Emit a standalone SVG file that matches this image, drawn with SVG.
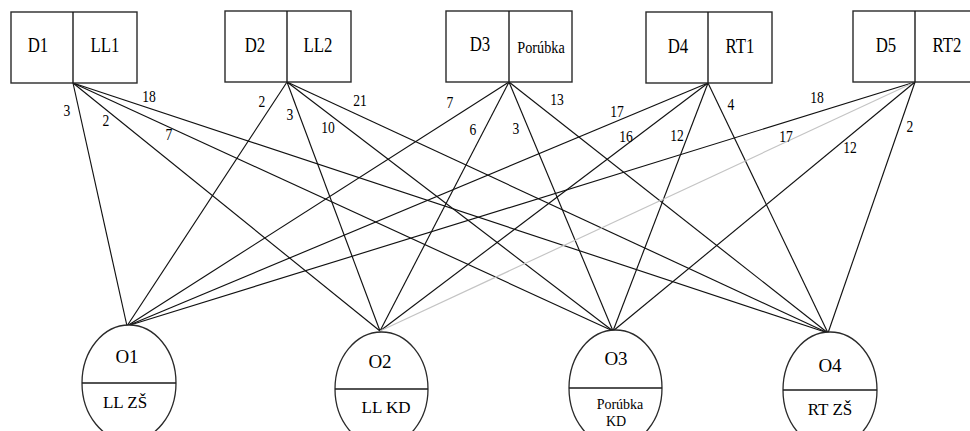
<svg xmlns="http://www.w3.org/2000/svg" width="970" height="431" viewBox="0 0 970 431">
  <style>
    .box { fill: #ffffff; stroke: #2a2a2a; stroke-width: 1.4; }
    .div { stroke: #1a1a1a; stroke-width: 1.4; }
    .node { fill: #ffffff; stroke: #2a2a2a; stroke-width: 1.3; }
    .edge { stroke: #111111; stroke-width: 1.15; fill: none; }
    .edge.light { stroke: #c4c4c4; }
    text { font-family: "Liberation Serif", "Times New Roman", serif; fill: #000000; text-anchor: middle; }
    .bl { font-size: 21px; }
    .bs { font-size: 16px; }
    .el { font-size: 16px; }
    .ol { font-size: 19px; }
    .os { font-size: 17px; }
    .oss { font-size: 14px; }
  </style>

  <rect width="970" height="431" fill="#ffffff"/>

  <!-- connectors: each D source to each O target -->
  <g id="connectors">
    <line class="edge" x1="73" y1="83" x2="127" y2="326"/>
    <line class="edge" x1="73" y1="83" x2="380" y2="331"/>
    <line class="edge" x1="73" y1="83" x2="613" y2="331"/>
    <line class="edge" x1="73" y1="83" x2="828" y2="333"/>

    <line class="edge" x1="287" y1="82" x2="127" y2="326"/>
    <line class="edge" x1="287" y1="82" x2="380" y2="331"/>
    <line class="edge" x1="287" y1="82" x2="613" y2="331"/>
    <line class="edge" x1="287" y1="82" x2="828" y2="333"/>

    <line class="edge" x1="509" y1="82" x2="127" y2="326"/>
    <line class="edge" x1="509" y1="82" x2="380" y2="331"/>
    <line class="edge" x1="509" y1="82" x2="613" y2="331"/>
    <line class="edge" x1="509" y1="82" x2="828" y2="333"/>

    <line class="edge" x1="708" y1="83" x2="127" y2="326"/>
    <line class="edge" x1="708" y1="83" x2="380" y2="331"/>
    <line class="edge" x1="708" y1="83" x2="613" y2="331"/>
    <line class="edge" x1="708" y1="83" x2="828" y2="333"/>

    <line class="edge" x1="915" y1="82" x2="127" y2="326"/>
    <line class="edge light" x1="915" y1="82" x2="380" y2="331"/>
    <line class="edge" x1="915" y1="82" x2="613" y2="331"/>
    <line class="edge" x1="915" y1="82" x2="828" y2="333"/>

    <!-- edge weights -->
    <text class="el" transform="translate(67,116) scale(0.85,1)">3</text>
    <text class="el" transform="translate(106,126) scale(0.85,1)">2</text>
    <text class="el" transform="translate(169,140) scale(0.85,1)">7</text>
    <text class="el" transform="translate(149,102) scale(0.85,1)">18</text>

    <text class="el" transform="translate(262,107) scale(0.85,1)">2</text>
    <text class="el" transform="translate(290,120) scale(0.85,1)">3</text>
    <text class="el" transform="translate(328,133) scale(0.85,1)">10</text>
    <text class="el" transform="translate(360,106) scale(0.85,1)">21</text>

    <text class="el" transform="translate(450,108) scale(0.85,1)">7</text>
    <text class="el" transform="translate(473,135) scale(0.85,1)">6</text>
    <text class="el" transform="translate(516,134) scale(0.85,1)">3</text>
    <text class="el" transform="translate(557,105) scale(0.85,1)">13</text>

    <text class="el" transform="translate(617,117) scale(0.85,1)">17</text>
    <text class="el" transform="translate(626,142) scale(0.85,1)">16</text>
    <text class="el" transform="translate(677,141) scale(0.85,1)">12</text>
    <text class="el" transform="translate(731,110) scale(0.85,1)">4</text>

    <text class="el" transform="translate(817,103) scale(0.85,1)">18</text>
    <text class="el" transform="translate(786,142) scale(0.85,1)">17</text>
    <text class="el" transform="translate(850,153) scale(0.85,1)">12</text>
    <text class="el" transform="translate(910,132) scale(0.85,1)">2</text>
  </g>

  <!-- source boxes -->
  <g id="D1">
    <rect class="box" x="11" y="12" width="126" height="71"/>
    <line class="div" x1="73" y1="12" x2="73" y2="83"/>
    <text class="bl" transform="translate(38,52) scale(0.8,1)">D1</text>
    <text class="bl" transform="translate(105,52) scale(0.8,1)">LL1</text>
  </g>
  <g id="D2">
    <rect class="box" x="225" y="11" width="126" height="71"/>
    <line class="div" x1="287" y1="11" x2="287" y2="82"/>
    <text class="bl" transform="translate(255,52) scale(0.8,1)">D2</text>
    <text class="bl" transform="translate(318,52) scale(0.8,1)">LL2</text>
  </g>
  <g id="D3">
    <rect class="box" x="446" y="11" width="126" height="71"/>
    <line class="div" x1="509" y1="11" x2="509" y2="82"/>
    <text class="bl" transform="translate(480,51) scale(0.8,1)">D3</text>
    <text class="bs" transform="translate(541,53) scale(0.89,1)">Porúbka</text>
  </g>
  <g id="D4">
    <rect class="box" x="646" y="12" width="126" height="71"/>
    <line class="div" x1="708" y1="12" x2="708" y2="83"/>
    <text class="bl" transform="translate(678,53) scale(0.8,1)">D4</text>
    <text class="bl" transform="translate(740,53) scale(0.8,1)">RT1</text>
  </g>
  <g id="D5">
    <rect class="box" x="853" y="11" width="126" height="71"/>
    <line class="div" x1="915" y1="11" x2="915" y2="82"/>
    <text class="bl" transform="translate(886,52) scale(0.8,1)">D5</text>
    <text class="bl" transform="translate(947,52) scale(0.8,1)">RT2</text>
  </g>

  <!-- target nodes -->
  <g id="O1">
    <ellipse class="node" cx="129" cy="383" rx="47" ry="58"/>
    <line class="div" x1="82" y1="383" x2="176" y2="383"/>
    <text class="ol" x="127" y="363">O1</text>
    <text class="os" x="125" y="408">LL ZŠ</text>
  </g>
  <g id="O2">
    <ellipse class="node" cx="381.5" cy="389" rx="46.5" ry="57"/>
    <line class="div" x1="335" y1="389" x2="428" y2="389"/>
    <text class="ol" x="380" y="368">O2</text>
    <text class="os" x="386" y="413">LL KD</text>
  </g>
  <g id="O3">
    <ellipse class="node" cx="615.5" cy="388" rx="46.5" ry="58"/>
    <line class="div" x1="569" y1="388" x2="662" y2="388"/>
    <text class="ol" x="616" y="365">O3</text>
    <text class="oss" x="620" y="409">Porúbka</text>
    <text class="oss" x="616" y="426">KD</text>
  </g>
  <g id="O4">
    <ellipse class="node" cx="830" cy="390" rx="47" ry="58"/>
    <line class="div" x1="783" y1="390" x2="877" y2="390"/>
    <text class="ol" x="830" y="372">O4</text>
    <text class="os" x="830" y="415">RT ZŠ</text>
  </g>
</svg>
